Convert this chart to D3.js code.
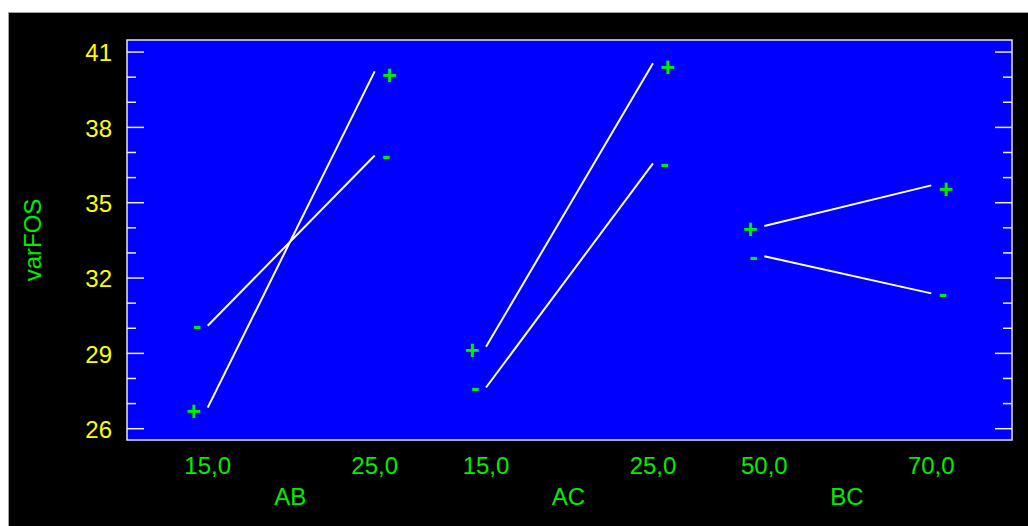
<!DOCTYPE html>
<html>
<head>
<meta charset="utf-8">
<script src="https://cdn.jsdelivr.net/npm/d3@7/dist/d3.min.js"></script>
<style>
  html, body { margin: 0; padding: 0; background: #fff; }
  svg { display: block; }
  text { font-family: "Liberation Sans", Arial, sans-serif; }
</style>
</head>
<body>
<svg id="chart" width="1028" height="526"></svg>
<script>
// ---- data ----
const factors = ["AB", "AC", "BC"];
const levelLabels = [["15,0", "25,0"], ["15,0", "25,0"], ["50,0", "70,0"]];
const plusValues = [[26.84, 40.23], [29.26, 40.55], [34.07, 35.69]];
const minusValues = [[30.10, 36.88], [27.64, 36.57], [32.87, 31.39]];
const levelPositions = [[1, 4], [6, 9], [11, 14]];
const yTickValues = [26, 29, 32, 35, 38, 41];
const yMinorValues = d3.range(26, 42, 1);
const yTitle = "varFOS";

// ---- layout ----
const svg = d3.select("#chart");
const plot = { left: 127, right: 1012, top: 40, bottom: 440 };
const green = "#00ee00", yellow = "#ffff00";

svg.append("rect").attr("x", 8.5).attr("y", 12.5).attr("width", 1030).attr("height", 520)
  .attr("fill", "#000").attr("stroke", "#a0a0a0").attr("stroke-width", 1);

const x = d3.scaleLinear().domain([-0.45, 15.45]).range([plot.left, plot.right]);
const y = d3.scaleLinear().domain([25.55, 41.48]).range([plot.bottom, plot.top]);

svg.append("rect").attr("x", plot.left).attr("y", plot.top)
  .attr("width", plot.right - plot.left).attr("height", plot.bottom - plot.top)
  .attr("fill", "#0000ff").attr("stroke", "#e8e8e8").attr("stroke-width", 1.5);

// y ticks (left and right, inward)
const majorSet = new Set(yTickValues);
const tickG = svg.append("g").attr("stroke", "#f0f0f0").attr("stroke-width", 1.5);
yMinorValues.forEach(v => {
  const len = majorSet.has(v) ? 17 : 9;
  tickG.append("line").attr("x1", plot.left).attr("x2", plot.left + len)
    .attr("y1", y(v)).attr("y2", y(v));
  tickG.append("line").attr("x1", plot.right).attr("x2", plot.right - len)
    .attr("y1", y(v)).attr("y2", y(v));
});

// left axis labels via d3 axis
const yAxis = d3.axisLeft(y).tickValues(yTickValues).tickSize(0).tickPadding(0)
  .tickFormat(d3.format("d"));
const yg = svg.append("g").attr("transform", `translate(${plot.left - 15},0)`).call(yAxis);
yg.select(".domain").remove();
yg.selectAll("text").attr("fill", yellow).attr("font-size", 24)
  .attr("font-family", "Liberation Sans, Arial, sans-serif").attr("dy", "0.36em");

svg.append("text").attr("transform", `translate(41,240) rotate(-90)`)
  .attr("text-anchor", "middle").attr("fill", green).attr("font-size", 24).text(yTitle);

// x labels
factors.forEach((f, i) => {
  levelPositions[i].forEach((p, j) => {
    svg.append("text").attr("x", x(p)).attr("y", 474).attr("text-anchor", "middle")
      .attr("fill", green).attr("font-size", 24).text(levelLabels[i][j]);
  });
  const mid = (levelPositions[i][0] + levelPositions[i][1]) / 2;
  svg.append("text").attr("x", x(mid) - 1).attr("y", 505).attr("text-anchor", "middle")
    .attr("fill", green).attr("font-size", 24).text(f);
});

// lines + markers
const line = d3.line().x(d => x(d[0])).y(d => y(d[1]));
const series = [
  { sym: "+", vals: plusValues, base: 12.3 },
  { sym: "-", vals: minusValues, base: 8.7 }
];
series.forEach(s => {
  factors.forEach((f, i) => {
    const pts = levelPositions[i].map((p, j) => [p, s.vals[i][j]]);
    svg.append("path").attr("d", line(pts)).attr("fill", "none")
      .attr("stroke", "#fff").attr("stroke-width", 2);
    svg.append("text").attr("x", x(pts[0][0]) - 6.5).attr("y", y(pts[0][1]) + s.base)
      .attr("text-anchor", "end").attr("fill", green).attr("font-size", 25)
      .attr("font-weight", "bold").text(s.sym);
    svg.append("text").attr("x", x(pts[1][0]) + 7.5).attr("y", y(pts[1][1]) + s.base)
      .attr("text-anchor", "start").attr("fill", green).attr("font-size", 25)
      .attr("font-weight", "bold").text(s.sym);
  });
});
</script>
</body>
</html>
